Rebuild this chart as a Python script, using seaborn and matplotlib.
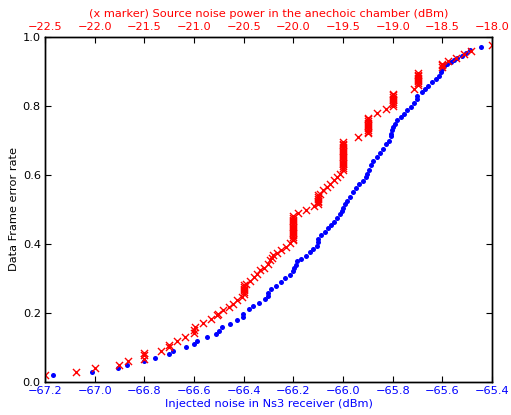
import numpy as np
import pandas as pd
import matplotlib
matplotlib.use('Agg')
import matplotlib.pyplot as plt
import seaborn as sns

# blue dots: injected noise in the Ns3 receiver (bottom axis)
ns3_noise = [-67.167, -67.012, -66.905, -66.869, -66.800, -66.757, -66.701, -66.683, -66.632, -66.600,
             -66.586, -66.549, -66.513, -66.501, -66.486, -66.455, -66.428, -66.401, -66.401, -66.379,
             -66.361, -66.337, -66.315, -66.302, -66.301, -66.289, -66.270, -66.251, -66.232, -66.213,
             -66.203, -66.197, -66.189, -66.184, -66.168, -66.149, -66.133, -66.120, -66.106, -66.101,
             -66.099, -66.087, -66.074, -66.060, -66.047, -66.036, -66.023, -66.012, -66.004, -65.999,
             -65.993, -65.983, -65.972, -65.961, -65.948, -65.934, -65.921, -65.907, -65.902, -65.897,
             -65.888, -65.878, -65.864, -65.851, -65.838, -65.827, -65.816, -65.808, -65.805, -65.803,
             -65.800, -65.792, -65.781, -65.768, -65.754, -65.741, -65.727, -65.714, -65.703, -65.701,
             -65.683, -65.670, -65.657, -65.640, -65.627, -65.613, -65.605, -65.600, -65.593, -65.582,
             -65.566, -65.553, -65.540, -65.522, -65.505, -65.489, -65.443]
ns3_fer = [0.020, 0.030, 0.040, 0.049, 0.061, 0.070, 0.081, 0.090, 0.100, 0.111,
           0.119, 0.129, 0.139, 0.148, 0.160, 0.169, 0.179, 0.189, 0.198, 0.210,
           0.220, 0.229, 0.239, 0.250, 0.258, 0.270, 0.279, 0.289, 0.300, 0.309,
           0.320, 0.329, 0.340, 0.349, 0.356, 0.366, 0.376, 0.385, 0.395, 0.405,
           0.414, 0.425, 0.434, 0.445, 0.455, 0.464, 0.474, 0.485, 0.494, 0.504,
           0.514, 0.524, 0.536, 0.550, 0.561, 0.572, 0.582, 0.593, 0.603, 0.615,
           0.627, 0.640, 0.651, 0.663, 0.675, 0.688, 0.699, 0.711, 0.719, 0.728,
           0.738, 0.747, 0.757, 0.767, 0.776, 0.786, 0.796, 0.807, 0.820, 0.829,
           0.839, 0.849, 0.858, 0.868, 0.877, 0.887, 0.897, 0.906, 0.914, 0.921,
           0.926, 0.933, 0.938, 0.945, 0.952, 0.960, 0.969]

# red x: source noise power in the anechoic chamber (top axis)
source_noise = [-22.50, -22.19, -22.00, -21.75, -21.66, -21.50, -21.50, -21.50, -21.33, -21.25,
                -21.25, -21.17, -21.09, -21.00, -21.00, -20.99, -20.91, -20.83, -20.77, -20.76,
                -20.71, -20.65, -20.61, -20.57, -20.52,
                -20.50, -20.50, -20.50, -20.50, -20.50, -20.50,
                -20.48, -20.44, -20.40, -20.37, -20.34, -20.30, -20.26, -20.24, -20.22, -20.20,
                -20.16, -20.12, -20.07, -20.03,
                -20.00, -20.00, -20.00, -20.00, -20.00, -20.00, -20.00, -20.00,
                -20.00, -20.00, -20.00, -20.00, -20.00, -20.00, -20.00,
                -19.95, -19.87, -19.79,
                -19.75, -19.75, -19.75, -19.75, -19.75, -19.75,
                -19.73, -19.70, -19.66, -19.63, -19.59, -19.56, -19.53,
                -19.50, -19.50, -19.50, -19.50, -19.50, -19.50, -19.50, -19.50, -19.50,
                -19.50, -19.50, -19.50, -19.50, -19.50, -19.50, -19.50, -19.50,
                -19.35,
                -19.25, -19.25, -19.25, -19.25, -19.25, -19.25, -19.25, -19.25, -19.25, -19.25,
                -19.16, -19.07,
                -19.00, -19.00, -19.00, -19.00, -19.00, -19.00, -19.00, -19.00,
                -18.79,
                -18.75, -18.75, -18.75, -18.75, -18.75, -18.75, -18.75, -18.75,
                -18.50, -18.50, -18.50,
                -18.44, -18.36, -18.28, -18.21, -18.00]
source_fer = [0.020, 0.030, 0.040, 0.050, 0.060, 0.068, 0.077, 0.085, 0.090, 0.100,
              0.108, 0.119, 0.131, 0.143, 0.150, 0.158, 0.170, 0.181, 0.194, 0.198,
              0.208, 0.218, 0.227, 0.237, 0.247,
              0.255, 0.260, 0.265, 0.270, 0.275, 0.280,
              0.285, 0.293, 0.304, 0.314, 0.324, 0.331, 0.343, 0.353, 0.360, 0.367,
              0.374, 0.382, 0.391, 0.401,
              0.410, 0.415, 0.420, 0.425, 0.430, 0.435, 0.440, 0.445,
              0.450, 0.455, 0.460, 0.465, 0.470, 0.475, 0.480,
              0.489, 0.499, 0.510,
              0.515, 0.520, 0.525, 0.530, 0.535, 0.540,
              0.545, 0.555, 0.564, 0.574, 0.584, 0.593, 0.603,
              0.615, 0.620, 0.625, 0.630, 0.635, 0.640, 0.645, 0.650, 0.655,
              0.660, 0.665, 0.670, 0.675, 0.680, 0.685, 0.690, 0.695,
              0.709,
              0.720, 0.725, 0.730, 0.735, 0.740, 0.745, 0.750, 0.755, 0.760, 0.765,
              0.780, 0.790,
              0.800, 0.805, 0.810, 0.815, 0.820, 0.825, 0.830, 0.835,
              0.849,
              0.860, 0.865, 0.870, 0.875, 0.880, 0.885, 0.890, 0.895,
              0.912, 0.917, 0.921,
              0.928, 0.938, 0.949, 0.959, 0.975]

bottom_ticks = [-67.2, -67.0, -66.8, -66.6, -66.4, -66.2, -66.0, -65.8, -65.6, -65.4]
top_ticks = [-22.5, -22.0, -21.5, -21.0, -20.5, -20.0, -19.5, -19.0, -18.5, -18.0]
y_ticks = [0.0, 0.2, 0.4, 0.6, 0.8, 1.0]

plt.rcParams['font.family'] = 'DejaVu Sans'
plt.rcParams['font.size'] = 8.2
plt.rcParams['axes.linewidth'] = 1.0

ns3_df = pd.DataFrame({'noise': ns3_noise, 'fer': ns3_fer})
src_df = pd.DataFrame({'noise': source_noise, 'fer': source_fer})

fig = plt.figure(figsize=(5.11, 4.15), dpi=100)
ax = fig.add_axes([0.088, 0.0795, 0.875, 0.8325])
ax2 = ax.twiny()

sns.scatterplot(data=ns3_df, x='noise', y='fer', ax=ax, color='blue', marker='o', s=13, linewidth=0)
sns.scatterplot(data=src_df, x='noise', y='fer', ax=ax2, color='red', marker='x', s=26, linewidth=1)

ax.set_xlim(-67.2, -65.4)
ax.set_ylim(0, 1.0)
ax2.set_xlim(-22.5, -18.0)

ax.set_xticks(bottom_ticks)
ax.set_yticks(y_ticks)
ax2.set_xticks(top_ticks)

ax.tick_params(axis='x', direction='in', length=4, labelcolor='blue', pad=3)
ax.tick_params(axis='y', direction='in', length=4, left=True, right=True, pad=3)
ax2.tick_params(axis='x', direction='in', length=4, labelcolor='red', pad=3)

ax.set_xlabel('Injected noise in Ns3 receiver (dBm)', color='blue', labelpad=2)
ax.set_ylabel('Data Frame error rate', labelpad=2.5)
ax2.set_xlabel('(x marker) Source noise power in the anechoic chamber (dBm)', color='red', labelpad=4)
ax2.set_ylabel('')

fig.savefig('out.png', dpi=100)
